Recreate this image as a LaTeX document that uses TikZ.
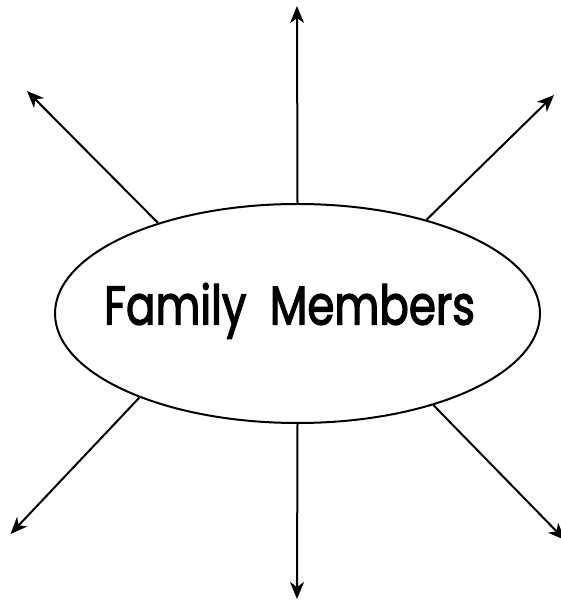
\documentclass[tikz,border=0pt]{standalone}
\usepackage{fontspec}
\setmainfont{Poppins}
\newfontfamily\labelfont{Poppins}[FakeBold=2.6]
\usetikzlibrary{arrows.meta,shapes.geometric}
\begin{document}
\begin{tikzpicture}[x=1pt,y=1pt,
  spoke/.style={line width=2pt,-{Stealth[length=17pt,width=14pt,inset=5pt]}},
  bubble/.style={ellipse,draw,line width=2pt,minimum width=485pt,minimum height=219pt,inner sep=0pt}]
\useasboundingbox (0,0) rectangle (560,600);
\node[bubble] (e) at (297.5,286.5) {};
\node[anchor=base,inner sep=0pt] (t) at (289.5,275.5) {\scalebox{1}[1.25]{\resizebox{371pt}{!}{\labelfont Family\ \ Members}}};
\coordinate (nT) at (297,594);
\coordinate (nB) at (297,1);
\coordinate (nTL) at (27,509);
\coordinate (nTR) at (554,505);
\coordinate (nBL) at (10.5,66);
\coordinate (nBR) at (565,60);
\draw[spoke] (e.north) -- (nT);
\draw[spoke] (e.south) -- (nB);
\draw[spoke] (e.147.8) -- (nTL);
\draw[spoke] (e.36) -- (nTR);
\draw[spoke] (e.208.8) -- (nBL);
\draw[spoke] (e.326.3) -- (nBR);
\end{tikzpicture}
\end{document}
